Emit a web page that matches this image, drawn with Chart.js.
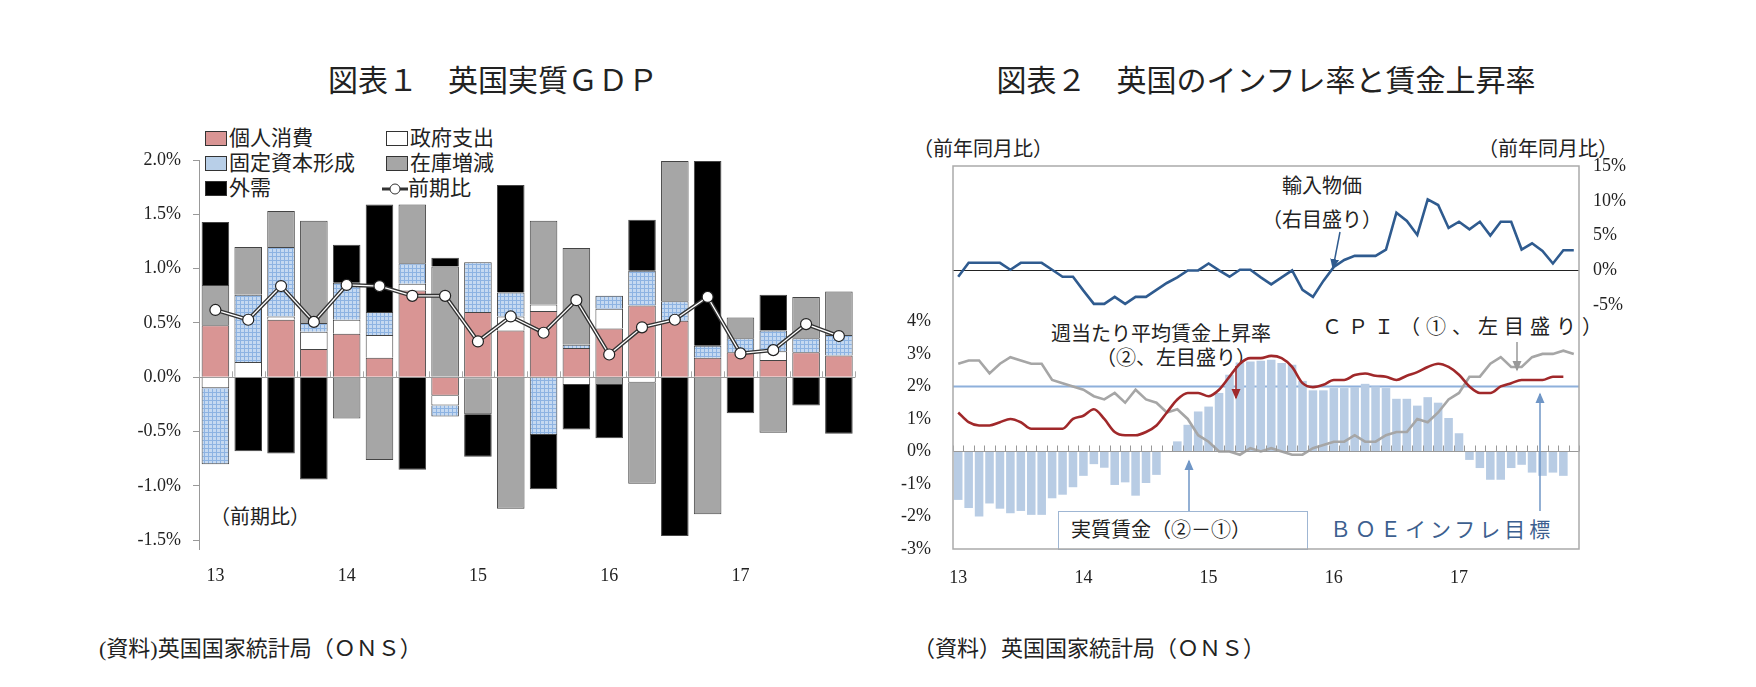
<!DOCTYPE html>
<html><head><meta charset="utf-8">
<script src="https://cdn.jsdelivr.net/npm/chart.js@4.4.1/dist/chart.umd.min.js"></script>
<style>
body{margin:0;background:#fff;width:1756px;height:687px;position:relative;overflow:hidden;font-family:"Liberation Serif","Noto Sans CJK JP",serif;color:#222}
.t{position:absolute;white-space:nowrap;font-family:"Liberation Serif","Noto Sans CJK JP",serif}
canvas{position:absolute}
.lg{position:absolute;font-size:21px;white-space:nowrap;font-family:"Noto Sans CJK JP";line-height:25px}
.sw{display:inline-block;width:20px;height:13px;border:1px solid #333;vertical-align:-1px;margin-right:2px}
</style></head><body>
<div class="t" style="left:493px;top:56px;transform:translateX(-50%);font-size:30px">図表１　英国実質ＧＤＰ</div>
<div class="t" style="left:1266px;top:56px;transform:translateX(-50%);font-size:30px">図表２　英国のインフレ率と賃金上昇率</div>
<div class="t" style="left:99px;top:630px;font-size:22px">(資料)英国国家統計局（ＯＮＳ）</div>
<div class="t" style="left:913px;top:630px;font-size:22px">（資料）英国国家統計局（ＯＮＳ）</div>
<div class="t" style="left:210px;top:501px;font-size:20px">（前期比）</div>
<div class="t" style="left:913px;top:133px;font-size:20px">（前年同月比）</div>
<div class="t" style="left:1478px;top:133px;font-size:20px">（前年同月比）</div>
<div class="t" style="left:1322px;top:170px;transform:translateX(-50%);font-size:20px">輸入物価</div>
<div class="t" style="left:1322px;top:204px;transform:translateX(-50%);font-size:20px">（右目盛り）</div>
<div class="t" style="left:1161px;top:318px;transform:translateX(-50%);font-size:20px">週当たり平均賃金上昇率</div>
<div class="t" style="left:1176px;top:342px;transform:translateX(-50%);font-size:20px">（②、左目盛り）</div>
<div class="t" style="left:1322px;top:311px;font-size:20px;letter-spacing:6px">ＣＰＩ（①、左目盛り）</div>
<div class="t" style="left:1058px;top:511px;width:248px;height:37px;border:1px solid #9fb6d3;background:#fff;font-size:20px;line-height:37px;text-indent:12px">実質賃金（②－①）</div>
<div class="t" style="left:1330px;top:513px;font-size:21px;color:#3d5f8f;letter-spacing:4px">ＢＯＥインフレ目標</div>
<div class="lg" style="left:205px;top:124px"><span class="sw" style="background:#d99594"></span>個人消費</div>
<div class="lg" style="left:386px;top:124px"><span class="sw" style="background:#fff"></span>政府支出</div>
<div class="lg" style="left:205px;top:149px"><span class="sw" style="background:#b8cfe8"></span>固定資本形成</div>
<div class="lg" style="left:386px;top:149px"><span class="sw" style="background:#a6a6a6"></span>在庫増減</div>
<div class="lg" style="left:205px;top:174px"><span class="sw" style="background:#000"></span>外需</div>
<div class="lg" style="left:382px;top:174px"><svg width="26" height="14" style="vertical-align:-1px"><line x1="0" y1="7" x2="26" y2="7" stroke="#333" stroke-width="3"/><circle cx="13" cy="7" r="5" fill="#fff" stroke="#333"/></svg>前期比</div>
<canvas id="c1" width="762" height="469" style="left:100px;top:120px;width:762px;height:469px"></canvas>
<canvas id="c2" width="770" height="469" style="left:870px;top:120px;width:770px;height:469px"></canvas>
<svg style="position:absolute;left:0;top:0" width="1756" height="687">
<defs><marker id="ah" markerWidth="8" markerHeight="8" refX="6" refY="4" orient="auto"><path d="M0,1 L7,4 L0,7 z" fill="context-stroke"/></marker></defs>
<line x1="1340" y1="232" x2="1333" y2="268" stroke="#2f5b8f" stroke-width="1.5" marker-end="url(#ah)"/>
<line x1="1236" y1="366" x2="1236" y2="398" stroke="#a0282a" stroke-width="1.5" marker-end="url(#ah)"/>
<line x1="1517" y1="342" x2="1517" y2="370" stroke="#999" stroke-width="1.5" marker-end="url(#ah)"/>
<line x1="1189" y1="511" x2="1189" y2="461" stroke="#6f96c6" stroke-width="1.5" marker-end="url(#ah)"/>
<line x1="1540" y1="511" x2="1540" y2="394" stroke="#6f96c6" stroke-width="1.5" marker-end="url(#ah)"/>
</svg>
<script>
// ---- Chart 1: quarterly GDP contributions (2013Q1–2017Q4)
const quarters = ['13','','','','14','','','','15','','','','16','','','','17','','',''];
const consumption = [0.48,0.00,0.53,0.26,0.40,0.18,0.80,-0.17,0.60,0.43,0.61,0.27,0.45,0.66,0.52,0.18,0.23,0.16,0.23,0.20];
const government  = [-0.10,0.14,0.03,0.16,0.13,0.21,0.06,-0.09,-0.01,0.13,0.06,-0.07,0.18,-0.05,0.00,0.00,0.00,0.08,0.00,0.00];
const investment  = [-0.70,0.62,0.64,0.08,0.34,0.21,0.19,-0.10,0.46,0.22,-0.53,0.03,0.12,0.32,0.18,0.11,0.13,0.19,0.13,0.19];
const inventories = [0.37,0.44,0.33,0.94,-0.38,-0.76,0.54,1.02,-0.33,-1.21,0.77,0.89,-0.07,-0.93,1.29,-1.26,0.19,-0.51,0.38,0.40];
const netExports  = [0.58,-0.68,-0.70,-0.94,0.35,0.99,-0.85,0.08,-0.39,0.99,-0.50,-0.41,-0.49,0.47,-1.46,1.70,-0.33,0.33,-0.26,-0.52];
const gdpQoQ      = [0.62,0.53,0.84,0.51,0.85,0.84,0.75,0.75,0.33,0.56,0.41,0.71,0.21,0.46,0.53,0.74,0.22,0.25,0.49,0.38];
const ticks1 = [-1.5,-1.0,-0.5,0,0.5,1.0,1.5,2.0];

// ---- Chart 2: monthly 2013/01–2017/12
const months = []; for(let y=13;y<=17;y++) for(let m=1;m<=12;m++) months.push(m===1?String(y):'');
const importPrices = [-0.9,1.1,1.1,1.1,1.1,0.1,1.1,1.1,1.1,0.1,-0.9,-0.9,-2.9,-4.8,-4.8,-3.8,-4.8,-3.8,-3.8,-2.8,-1.8,-1.0,0.0,0.0,1.0,0.0,-0.9,0.1,0.1,-1.0,-2.0,-1.0,0.0,-2.8,-3.8,-1.5,0.5,1.5,2.1,2.1,2.1,3.0,8.3,7.1,5.1,10.2,9.4,6.1,7.0,5.9,7.0,5.0,7.0,7.0,3.0,3.9,2.8,1.0,2.9,2.9];
const wageGrowth = [1.2,0.9,0.8,0.8,0.9,1.0,0.9,0.7,0.7,0.7,0.7,1.0,1.1,1.3,1.0,0.6,0.5,0.5,0.6,0.8,1.2,1.6,1.8,1.8,1.7,1.9,2.3,2.7,2.87,2.87,2.94,2.87,2.6,2.1,1.98,2.05,2.2,2.2,2.35,2.4,2.33,2.3,2.2,2.33,2.44,2.6,2.7,2.6,2.36,2.0,1.8,1.8,2.0,2.1,2.2,2.2,2.2,2.3,2.3,null];
const cpi = [2.7,2.8,2.8,2.4,2.7,2.9,2.8,2.7,2.7,2.2,2.1,2.0,1.9,1.7,1.6,1.8,1.5,1.9,1.6,1.5,1.2,1.3,1.0,0.5,0.3,0.0,0.0,-0.1,0.1,0.0,0.1,0.0,-0.1,-0.1,0.1,0.2,0.3,0.3,0.5,0.3,0.3,0.5,0.6,0.6,1.0,0.9,1.2,1.6,1.8,2.3,2.3,2.7,2.9,2.6,2.6,2.9,3.0,3.0,3.1,3.0];
const realWage = [-1.49,-1.74,-2.0,-1.6,-1.76,-1.9,-1.83,-1.95,-1.95,-1.44,-1.33,-1.1,-0.75,-0.39,-0.5,-1.03,-0.95,-1.36,-0.97,-0.72,0.0,0.31,0.82,1.23,1.38,1.8,2.36,2.74,2.77,2.79,2.82,2.72,2.67,2.17,1.88,1.88,1.95,1.95,1.98,2.08,2.0,1.95,1.62,1.62,1.41,1.67,1.5,1.03,0.56,-0.26,-0.51,-0.87,-0.87,-0.51,-0.41,-0.65,-0.75,-0.65,-0.75,null];
const boeTarget = 2;
const ticksL = [-3,-2,-1,0,1,2,3,4];
const ticksR = [-5,0,5,10,15];

const serif = {family:'Liberation Serif', size:18};
function pattern(){
  const c=document.createElement('canvas');c.width=4;c.height=4;const x=c.getContext('2d');
  x.fillStyle='#c5d9f1';x.fillRect(0,0,4,4);x.fillStyle='#8db3e2';x.fillRect(0,0,4,1);x.fillRect(0,0,1,4);
  return x.createPattern(c,'repeat');
}
const bar=(label,data,bg)=>({type:'bar',label,data,backgroundColor:bg,borderColor:'#444',borderWidth:1,barPercentage:0.84,categoryPercentage:1,stack:'s',order:5});

new Chart(document.getElementById('c1'),{
  data:{labels:quarters,datasets:[
    bar('個人消費',consumption,'#d99594'),
    bar('政府支出',government,'#ffffff'),
    bar('固定資本形成',investment,pattern()),
    bar('在庫増減',inventories,'#a6a6a6'),
    bar('外需',netExports,'#000000'),
    {type:'line',data:gdpQoQ,stack:'l1',borderColor:'#333',borderWidth:4,pointRadius:0,order:2},
    {type:'line',data:gdpQoQ,stack:'l2',borderColor:'#fff',borderWidth:1.3,pointRadius:5.5,pointBackgroundColor:'#fff',pointBorderColor:'#222',pointBorderWidth:1.2,order:1}
  ]},
  options:{animation:false,responsive:false,layout:{padding:{top:40,left:0,right:0,bottom:0}},
    plugins:{legend:{display:false},tooltip:{enabled:false}},
    scales:{
      x:{stacked:true,offset:true,grid:{display:false},border:{display:false},
         ticks:{font:serif,color:'#222',maxRotation:0,autoSkip:false,padding:8},afterFit:s=>{s.height=40}},
      y:{stacked:true,min:-1.58,max:2.0,afterBuildTicks:s=>{s.ticks=ticks1.map(v=>({value:v}))},
         grid:{color:c=>c.tick&&c.tick.value===0?'#999':'transparent',tickColor:'#999',tickLength:6},
         border:{color:'#999'},
         ticks:{font:serif,color:'#222',padding:12,callback:v=>v.toFixed(1)+'%'},afterFit:s=>{s.width=99}}
    }},
  plugins:[{id:'zt',afterDatasetsDraw(ch){const {ctx,scales:{x,y}}=ch;const y0=y.getPixelForValue(0);
    ctx.save();ctx.strokeStyle='#aaa';ctx.lineWidth=1;
    for(let i=0;i<=quarters.length;i++){const px=Math.round(x.getPixelForValue(i)-(x.getPixelForValue(1)-x.getPixelForValue(0))/2)+.5;ctx.beginPath();ctx.moveTo(px,y0);ctx.lineTo(px,y0-6);ctx.stroke();}
    ctx.restore();}}]
});

new Chart(document.getElementById('c2'),{
  data:{labels:months,datasets:[
    {type:'line',data:importPrices,yAxisID:'yR',borderColor:'#2f5b8f',borderWidth:2.6,pointRadius:0,order:1},
    {type:'line',data:wageGrowth,yAxisID:'yL',borderColor:'#a0282a',borderWidth:2.6,pointRadius:0,cubicInterpolationMode:'monotone',order:2},
    {type:'line',data:cpi,yAxisID:'yL',borderColor:'#a6a6a6',borderWidth:2.6,pointRadius:0,order:3},
    {type:'bar',data:realWage,yAxisID:'yL',backgroundColor:'#b8cce4',barPercentage:0.82,categoryPercentage:1,order:10}
  ]},
  options:{animation:false,responsive:false,layout:{padding:{top:46,left:0,right:0,bottom:0}},
    plugins:{legend:{display:false},tooltip:{enabled:false}},
    scales:{
      x:{offset:true,grid:{display:false},border:{display:false},
         ticks:{font:serif,color:'#222',maxRotation:0,autoSkip:false,padding:10},afterFit:s=>{s.height=40}},
      yL:{position:'left',min:-3,max:8.78,afterBuildTicks:s=>{s.ticks=ticksL.map(v=>({value:v}))},
         grid:{display:false},border:{display:false},
         ticks:{font:serif,color:'#222',padding:14,callback:v=>v+'%'},afterFit:s=>{s.width=83}},
      yR:{position:'right',min:-40,max:15,afterBuildTicks:s=>{s.ticks=ticksR.map(v=>({value:v}))},
         grid:{display:false},border:{display:false},
         ticks:{font:serif,color:'#222',padding:6,callback:v=>v+'%'},afterFit:s=>{s.width=61}}
    }},
  plugins:[{id:'frame',beforeDatasetsDraw(ch){const {ctx,chartArea:a,scales:{x,yL,yR}}=ch;
      ctx.save();
      const yt=yL.getPixelForValue(boeTarget);ctx.strokeStyle='#8eb0db';ctx.lineWidth=2;ctx.beginPath();ctx.moveTo(a.left,yt);ctx.lineTo(a.right,yt);ctx.stroke();
      const yr=Math.round(yR.getPixelForValue(0))+.5;ctx.strokeStyle='#222';ctx.lineWidth=1.2;ctx.beginPath();ctx.moveTo(a.left,yr);ctx.lineTo(a.right,yr);ctx.stroke();
      ctx.restore();},
    afterDatasetsDraw(ch){const {ctx,chartArea:a,scales:{x,yL}}=ch;ctx.save();
      const y0=Math.round(yL.getPixelForValue(0))+.5;ctx.strokeStyle='#999';ctx.lineWidth=1;
      ctx.beginPath();ctx.moveTo(a.left,y0);ctx.lineTo(a.right,y0);ctx.stroke();
      const w=x.getPixelForValue(1)-x.getPixelForValue(0);
      for(let i=0;i<=months.length;i++){const px=Math.round(x.getPixelForValue(i)-w/2)+.5;ctx.beginPath();ctx.moveTo(px,y0);ctx.lineTo(px,y0-6);ctx.stroke();}
      ctx.strokeStyle='#aaa';ctx.lineWidth=1.5;ctx.strokeRect(a.left,a.top,a.right-a.left,a.bottom-a.top);
      ctx.restore();}}]
});
</script>
</body></html>
